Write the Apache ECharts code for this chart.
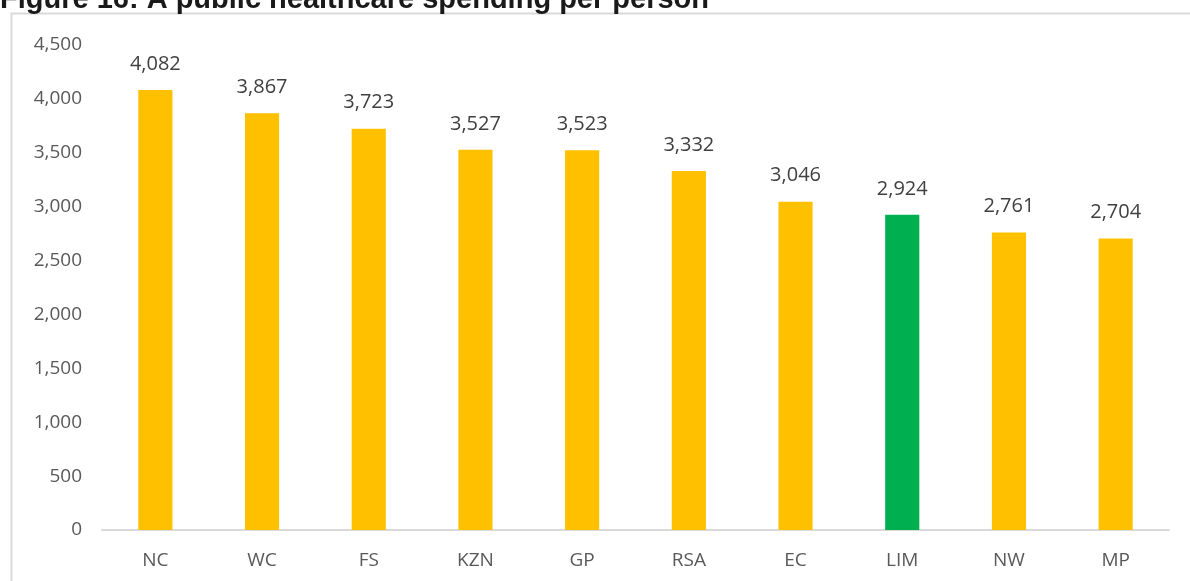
<!DOCTYPE html>
<html>
<head>
<meta charset="utf-8">
<script src="https://cdn.jsdelivr.net/npm/echarts@6/dist/echarts.min.js"></script>
<style>
  html, body { margin: 0; padding: 0; background: #fff; }
  #chart { width: 1190px; height: 581px; }
</style>
</head>
<body>
<div id="chart"></div>
<script>
// regions, spending per person
var categories = ['NC', 'WC', 'FS', 'KZN', 'GP', 'RSA', 'EC', 'LIM', 'NW', 'MP']
var spending = [4082, 3867, 3723, 3527, 3523, 3332, 3046, 2924, 2761, 2704]
var highlight = 'LIM'

var chart = echarts.init(document.getElementById('chart'))

chart.setOption({
  animation: false,
  graphic: [
    {
      type: 'rect',
      shape: { x: 11.5, y: 13.5, width: 1200, height: 600 },
      style: { fill: 'none', stroke: '#d9d9d9', lineWidth: 2 },
      silent: true
    },
    {
      type: 'text',
      x: 0,
      y: 14,
      style: {
        text: 'Figure 16: A public healthcare spending per person',
        font: 'bold 29px "Liberation Sans", Arial, sans-serif',
        fill: '#1a1a1a',
        verticalAlign: 'bottom'
      }
    }
  ],
  grid: {
    left: 102,
    right: 21,
    top: 45,
    bottom: 51
  },
  xAxis: {
    type: 'category',
    data: categories,
    axisTick: { show: false },
    axisLine: { lineStyle: { color: '#d9d9d9', width: 2 } },
    axisLabel: {
      color: '#595959',
      fontSize: 19,
      fontFamily: '"Open Sans", sans-serif',
      margin: 21
    }
  },
  yAxis: {
    type: 'value',
    min: 0,
    max: 4500,
    interval: 500,
    splitLine: { show: false },
    axisLine: { show: false },
    axisTick: { show: false },
    axisLabel: {
      color: '#595959',
      fontSize: 19,
      fontFamily: '"Open Sans", sans-serif',
      margin: 20,
      formatter: function (v) { return v.toLocaleString('en-US') }
    }
  },
  series: [
    {
      type: 'bar',
      barWidth: '32%',
      data: spending.map(function (v, i) {
        return {
          value: v,
          itemStyle: { color: categories[i] === highlight ? '#00b050' : '#ffc000' }
        }
      }),
      label: {
        show: true,
        position: 'top',
        distance: 16,
        color: '#404040',
        fontSize: 20,
        fontFamily: '"Open Sans", sans-serif',
        formatter: function (p) { return p.value.toLocaleString('en-US') }
      }
    }
  ]
})
</script>
</body>
</html>
